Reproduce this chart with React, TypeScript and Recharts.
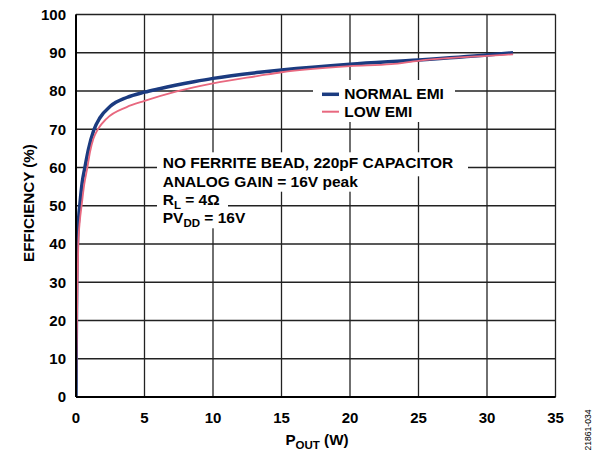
import React from "react";
import { LineChart, Line, XAxis, YAxis, CartesianGrid } from "recharts";

const normalEmiP = [0, 0.02, 0.05, 0.1, 0.2, 0.3, 0.45, 0.65, 0.9, 1.3, 1.75, 2.5, 3.7, 5, 6.1, 8.6, 10, 13.4, 15, 20, 25, 30, 31.9];
const normalEmiEff = [0, 15, 30, 40, 47, 51, 56, 60, 64.6, 69.8, 73, 76, 78.3, 79.7, 80.6, 82.4, 83.3, 84.9, 85.5, 87.0, 88.1, 89.4, 90.0];

const lowEmiP = [0, 0.03, 0.07, 0.11, 0.17, 0.28, 0.41, 0.6, 0.83, 1.02, 1.27, 1.6, 2.24, 3.7, 5, 7.35, 10, 13.4, 15, 20, 23, 25, 30, 31.9];
const lowEmiEff = [0, 10, 20, 30, 40, 46, 50, 55.5, 60, 64, 67.5, 70, 72.8, 75.8, 77.4, 79.9, 82.0, 84.0, 84.9, 86.5, 87, 87.9, 89.2, 89.6];

const xTicks = [0, 5, 10, 15, 20, 25, 30, 35];
const yTicks = [0, 10, 20, 30, 40, 50, 60, 70, 80, 90, 100];

const normalData = normalEmiP.map((p, i) => ({ p, eff: normalEmiEff[i] }));
const lowData = lowEmiP.map((p, i) => ({ p, eff: lowEmiEff[i] }));

const FONT = "'Liberation Sans', Arial, Helvetica, sans-serif";
const BLUE = "#1b3b80";
const PINK = "#e8687f";

export default function App() {
  const tickStyle = { fontFamily: FONT, fontSize: 15, fontWeight: 700, fill: "#000" };
  const ann = { fontFamily: FONT, fontSize: 15.5, fontWeight: 700, fill: "#000" } as const;
  return (
    <div style={{ position: "absolute", left: 0, top: 0, width: 602, height: 450, overflow: "hidden", background: "#fff" }}>
      <LineChart
        width={602}
        height={450}
        margin={{ top: 14.5, right: 46.5, bottom: 23, left: 36 }}
      >
        <CartesianGrid xAxisId="b" yAxisId="l" stroke="#222" strokeWidth={1.3} horizontal vertical />
        <XAxis
          xAxisId="b"
          type="number"
          dataKey="p"
          domain={[0, 35]}
          ticks={xTicks}
          height={30}
          tickLine={false}
          tickSize={6}
          tickMargin={9}
          axisLine={{ stroke: "#000", strokeWidth: 2 }}
          tick={tickStyle}
          allowDataOverflow
        />
        <XAxis
          xAxisId="t"
          orientation="top"
          type="number"
          dataKey="p"
          domain={[0, 35]}
          height={0}
          tick={false}
          tickLine={false}
          axisLine={{ stroke: "#000", strokeWidth: 2 }}
        />
        <YAxis
          yAxisId="l"
          type="number"
          domain={[0, 100]}
          ticks={yTicks}
          width={40}
          tickLine={false}
          tickSize={6}
          tickMargin={4}
          axisLine={{ stroke: "#000", strokeWidth: 2 }}
          tick={tickStyle}
          allowDataOverflow
        />
        <YAxis
          yAxisId="r"
          orientation="right"
          type="number"
          domain={[0, 100]}
          width={0}
          tick={false}
          tickLine={false}
          axisLine={{ stroke: "#000", strokeWidth: 2 }}
        />
        <Line
          xAxisId="b"
          yAxisId="l"
          data={normalData}
          dataKey="eff"
          type="monotone"
          stroke={BLUE}
          strokeWidth={3.5}
          dot={false}
          isAnimationActive={false}
        />
        <Line
          xAxisId="b"
          yAxisId="l"
          data={lowData}
          dataKey="eff"
          type="monotone"
          stroke={PINK}
          strokeWidth={1.8}
          dot={false}
          isAnimationActive={false}
        />
      </LineChart>
      <svg
        width={602}
        height={450}
        style={{ position: "absolute", left: 0, top: 0, pointerEvents: "none" }}
      >
        {/* legend */}
        <rect x={313} y={80} width={142} height={42} fill="#fff" />
        <line x1={322} x2={339} y1={94.3} y2={94.3} stroke={BLUE} strokeWidth={3.5} />
        <line x1={322} x2={339} y1={111.7} y2={111.7} stroke={PINK} strokeWidth={2} />
        <text x={344.3} y={99.3} style={ann}>NORMAL EMI</text>
        <text x={344.3} y={116.7} style={ann}>LOW EMI</text>

        {/* annotation */}
        <rect x={157} y={168.3 - 16} width={311} height={24} fill="#fff" />
        <rect x={157} y={186.7 - 16} width={211} height={21} fill="#fff" />
        <rect x={157} y={205 - 16} width={71} height={21} fill="#fff" />
        <rect x={157} y={223.3 - 16} width={96} height={21} fill="#fff" />
        <text x={162.7} y={168.3} style={ann}>NO FERRITE BEAD, 220pF CAPACITOR</text>
        <text x={162.7} y={186.7} style={ann}>ANALOG GAIN = 16V peak</text>
        <text x={162.7} y={205} style={ann}>
          R<tspan fontSize={11.5} dy={4}>L</tspan>
          <tspan dy={-4}> = 4Ω</tspan>
        </text>
        <text x={162.7} y={223.3} style={ann}>
          PV<tspan fontSize={11.5} dy={4}>DD</tspan>
          <tspan dy={-4}> = 16V</tspan>
        </text>

        {/* axis labels */}
        <text
          x={0}
          y={0}
          transform="translate(33.5,203) rotate(-90)"
          textAnchor="middle"
          style={{ fontFamily: FONT, fontSize: 15.2, fontWeight: 700, fill: "#000" }}
        >
          EFFICIENCY (%)
        </text>
        <text
          x={317}
          y={445}
          textAnchor="middle"
          style={{ fontFamily: FONT, fontSize: 15.2, fontWeight: 700, fill: "#000" }}
        >
          P<tspan fontSize={11.5} dy={3.5}>OUT</tspan>
          <tspan dy={-3.5}> (W)</tspan>
        </text>
        <text
          x={0}
          y={0}
          transform="translate(591,430) rotate(-90)"
          textAnchor="middle"
          style={{ fontFamily: FONT, fontSize: 8.6, fill: "#000" }}
        >
          21861-034
        </text>
      </svg>
    </div>
  );
}
